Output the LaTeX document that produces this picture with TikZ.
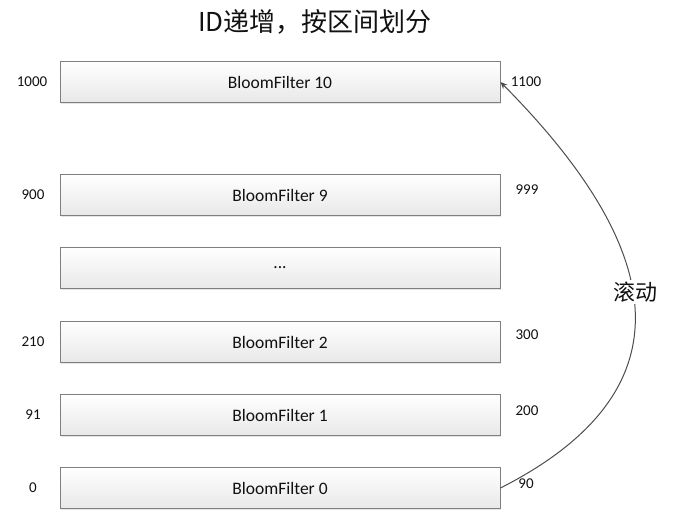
\documentclass[tikz,border=0pt]{standalone}
\usepackage{fontspec}
\setmainfont{Carlito}
\newfontfamily\cjk{Noto Sans CJK SC}
\usetikzlibrary{shadows,arrows.meta}
\definecolor{boxborder}{HTML}{7F7F7F}
\definecolor{txt}{HTML}{111111}
\begin{document}
\begin{tikzpicture}[x=1pt,y=-1pt,
  bfbox/.style={draw=boxborder,line width=0.9pt,top color=white,bottom color=black!9,
    minimum width=440pt,minimum height=41pt,inner sep=0pt,
    drop shadow={shadow xshift=1.2pt,shadow yshift=-1.5pt,opacity=0.25,fill=black!40},
    font=\fontsize{17.5}{20}\selectfont,text=txt},
  numlbl/.style={font=\fontsize{15}{17}\selectfont,text=txt,inner sep=0pt},
  arr/.style={draw=black!70,line width=1pt,-{Stealth[length=7pt,width=6pt]}}]
\useasboundingbox (0,0) rectangle (688,525);
\node[font=\cjk\fontsize{26}{30}\selectfont,text=txt] (title) at (315,22) {ID递增，按区间划分};
\node[bfbox] (b10) at (280,82) {BloomFilter 10};
\node[bfbox] (b9) at (280,195) {BloomFilter 9};
\node[bfbox] (bd) at (280,268) {...};
\node[bfbox] (b2) at (280,342) {BloomFilter 2};
\node[bfbox] (b1) at (280,415) {BloomFilter 1};
\node[bfbox] (b0) at (280,488) {BloomFilter 0};
\node[numlbl] (l10) at (32,82) {1000};
\node[numlbl] (l9) at (33,195) {900};
\node[numlbl] (l2) at (33,342) {210};
\node[numlbl] (l1) at (33,415) {91};
\node[numlbl] (l0) at (33,488) {0};
\node[numlbl] (r10) at (526,82) {1100};
\node[numlbl] (r9) at (527,190) {999};
\node[numlbl] (r2) at (527,335) {300};
\node[numlbl] (r1) at (527,411) {200};
\node[numlbl] (r0) at (526,484) {90};
\draw[arr] (b0.east) .. controls (711,381) and (646,229) .. (b10.east);
\node[fill=white,font=\cjk\fontsize{22}{26}\selectfont,text=txt,inner sep=2pt] (roll) at (635,292) {滚动};
\end{tikzpicture}
\end{document}
